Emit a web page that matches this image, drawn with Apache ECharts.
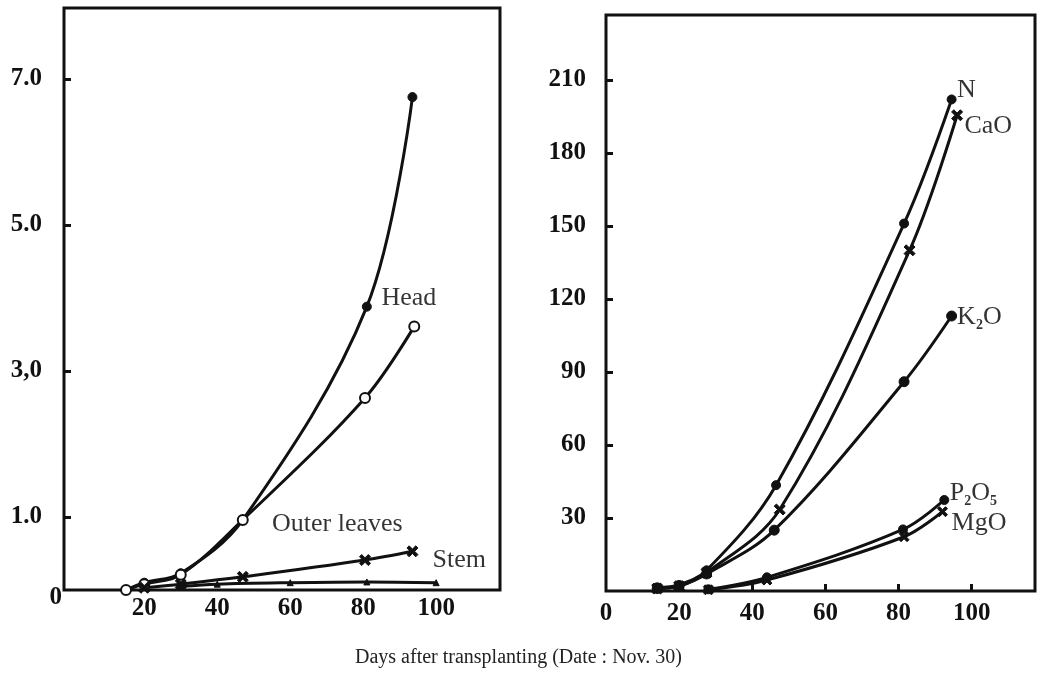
<!DOCTYPE html>
<html>
<head>
<meta charset="utf-8">
<script src="https://cdn.jsdelivr.net/npm/echarts@6/dist/echarts.min.js"></script>
<style>
  html, body { margin: 0; padding: 0; background: #fff; }
  #chart { width: 1047px; height: 681px; }
</style>
</head>
<body>
<div id="chart"></div>
<script>
// left panel: dry weight (kg), days after transplanting
const headData = [[15, 0], [20, 0.1], [30, 0.23], [47, 0.96], [81, 3.88], [93.5, 6.75]];
const outerData = [[15, 0], [20, 0.08], [30, 0.21], [47, 0.96], [80.5, 2.63], [94, 3.61]];
const stemData = [[20, 0.03], [30, 0.08], [47, 0.18], [80.5, 0.41], [93.5, 0.53]];
const lowData = [[30, 0.05], [40, 0.08], [60, 0.1], [81, 0.11], [100, 0.1]];

// right panel: nutrient uptake
const nData = [[14, 1.5], [20, 2.5], [27.5, 8.5], [46.5, 43.5], [81.5, 151], [94.5, 202]];
const caoData = [[14, 1], [20, 2], [27.5, 7.5], [47.5, 33.5], [83, 140], [96, 195.5]];
const k2oData = [[14, 1], [20, 2], [27.5, 7], [46, 25], [81.5, 86], [94.5, 113]];
const p2o5Data = [[28, 0.7], [44, 5.6], [81.2, 25.3], [92.5, 37.4]];
const mgoData = [[28, 0.5], [44, 4.5], [81.5, 22.3], [92, 32.6]];

const leftYLabels = {0: '0', 1: '1.0', 3: '3,0', 5: '5.0', 7: '7.0'};
const leftYTicks = [1, 3, 5, 7];
const rightYTicks = [30, 60, 90, 120, 150, 180, 210];
const leftXTicks = [20, 40, 60, 80, 100];
const rightXTicks = [0, 20, 40, 60, 80, 100];

const leftNotes = [[85, 4.0, 'Head'], [55, 0.9, 'Outer leaves'], [99, 0.41, 'Stem']];
const rightNotes = [[96, 206, 'N'], [98, 191, 'CaO'], [96, 112.5, 'K2O'], [94, 40, 'P2O5'], [94.5, 28, 'MgO']];

const ink = '#111';
const font = 'Liberation Serif';
const cross = 'path://M2,0 L5,3 L8,0 L10,2 L7,5 L10,8 L8,10 L5,7 L2,10 L0,8 L3,5 L0,2 Z';

const chart = echarts.init(document.getElementById('chart'));

function line(data, xi, symbol, size) {
  return {
    type: 'line',
    xAxisIndex: xi,
    yAxisIndex: xi,
    data: data,
    smooth: 0.35,
    symbol: symbol,
    symbolSize: size,
    showSymbol: true,
    lineStyle: {color: ink, width: 3},
    itemStyle: {color: ink, borderColor: ink, borderWidth: symbol === 'emptyCircle' ? 3 : 1},
    z: 3
  };
}

function notes(data, xi) {
  return {
    type: 'scatter',
    xAxisIndex: xi,
    yAxisIndex: xi,
    data: data,
    symbolSize: 0,
    silent: true,
    label: {
      show: true,
      position: 'right',
      distance: 0,
      formatter: p => {
        const t = p.value[2];
        if (t === 'K2O') return '{t|K}{s|2}{t|O}';
        if (t === 'P2O5') return '{t|P}{s|2}{t|O}{s|5}';
        return '{t|' + t + '}';
      },
      rich: {
        t: {fontFamily: font, fontSize: 26, color: '#000', lineHeight: 30},
        s: {fontFamily: font, fontSize: 14, fontWeight: 'bold', color: '#000', verticalAlign: 'bottom', lineHeight: 30}
      }
    }
  };
}

const axisText = {fontFamily: font, fontSize: 25, color: ink, fontWeight: 'bold'};
const richText = {
  n: Object.assign({padding: [0, 20, 0, 0]}, axisText),
  z: Object.assign({padding: [16, 0, 0, 0]}, axisText)
};

const option = {
  backgroundColor: '#fff',
  animation: false,
  title: {
    text: 'Days after transplanting (Date : Nov. 30)',
    left: 350,
    top: 643,
    textStyle: {fontFamily: font, fontSize: 20, fontWeight: 'normal', color: '#222'}
  },
  grid: [
    {left: 64, top: 8, width: 436, height: 582, show: true, borderColor: ink, borderWidth: 3},
    {left: 606, top: 15, width: 429, height: 576, show: true, borderColor: ink, borderWidth: 3}
  ],
  xAxis: [
    {
      type: 'value', gridIndex: 0, min: -2, max: 117.5,
      splitLine: {show: false}, axisLine: {show: false, onZero: false}, axisTick: {show: false},
      axisLabel: Object.assign({customValues: leftXTicks, margin: 6}, axisText)
    },
    {
      type: 'value', gridIndex: 1, min: 0, max: 117.3,
      splitLine: {show: false}, axisLine: {show: false, onZero: false},
      axisTick: {show: true, inside: true, length: 7, customValues: rightXTicks.slice(1), lineStyle: {color: ink, width: 3}},
      axisLabel: Object.assign({customValues: rightXTicks, margin: 10}, axisText)
    }
  ],
  yAxis: [
    {
      type: 'value', gridIndex: 0, min: 0, max: 7.97,
      splitLine: {show: false}, axisLine: {show: false, onZero: false},
      axisTick: {show: true, inside: true, length: 7, customValues: leftYTicks, lineStyle: {color: ink, width: 3}},
      axisLabel: Object.assign({
        customValues: [0, 1, 3, 5, 7], margin: 2,
        formatter: v => v === 0 ? '{z|0}' : '{n|' + leftYLabels[v] + '}',
        rich: richText
      }, axisText)
    },
    {
      type: 'value', gridIndex: 1, min: 0, max: 236.7,
      splitLine: {show: false}, axisLine: {show: false, onZero: false},
      axisTick: {show: true, inside: true, length: 7, customValues: rightYTicks, lineStyle: {color: ink, width: 3}},
      axisLabel: Object.assign({customValues: rightYTicks, margin: 20}, axisText)
    }
  ],
  series: [
    line(headData, 0, 'circle', 9),
    line(outerData, 0, 'emptyCircle', 10),
    line(stemData, 0, cross, 11),
    line(lowData, 0, 'triangle', 6),
    line(nData, 1, 'circle', 9),
    line(caoData, 1, cross, 11),
    line(k2oData, 1, 'circle', 10),
    line(p2o5Data, 1, 'circle', 9),
    line(mgoData, 1, cross, 10),
    notes(leftNotes, 0),
    notes(rightNotes, 1)
  ]
};

chart.setOption(option);
</script>
</body>
</html>
